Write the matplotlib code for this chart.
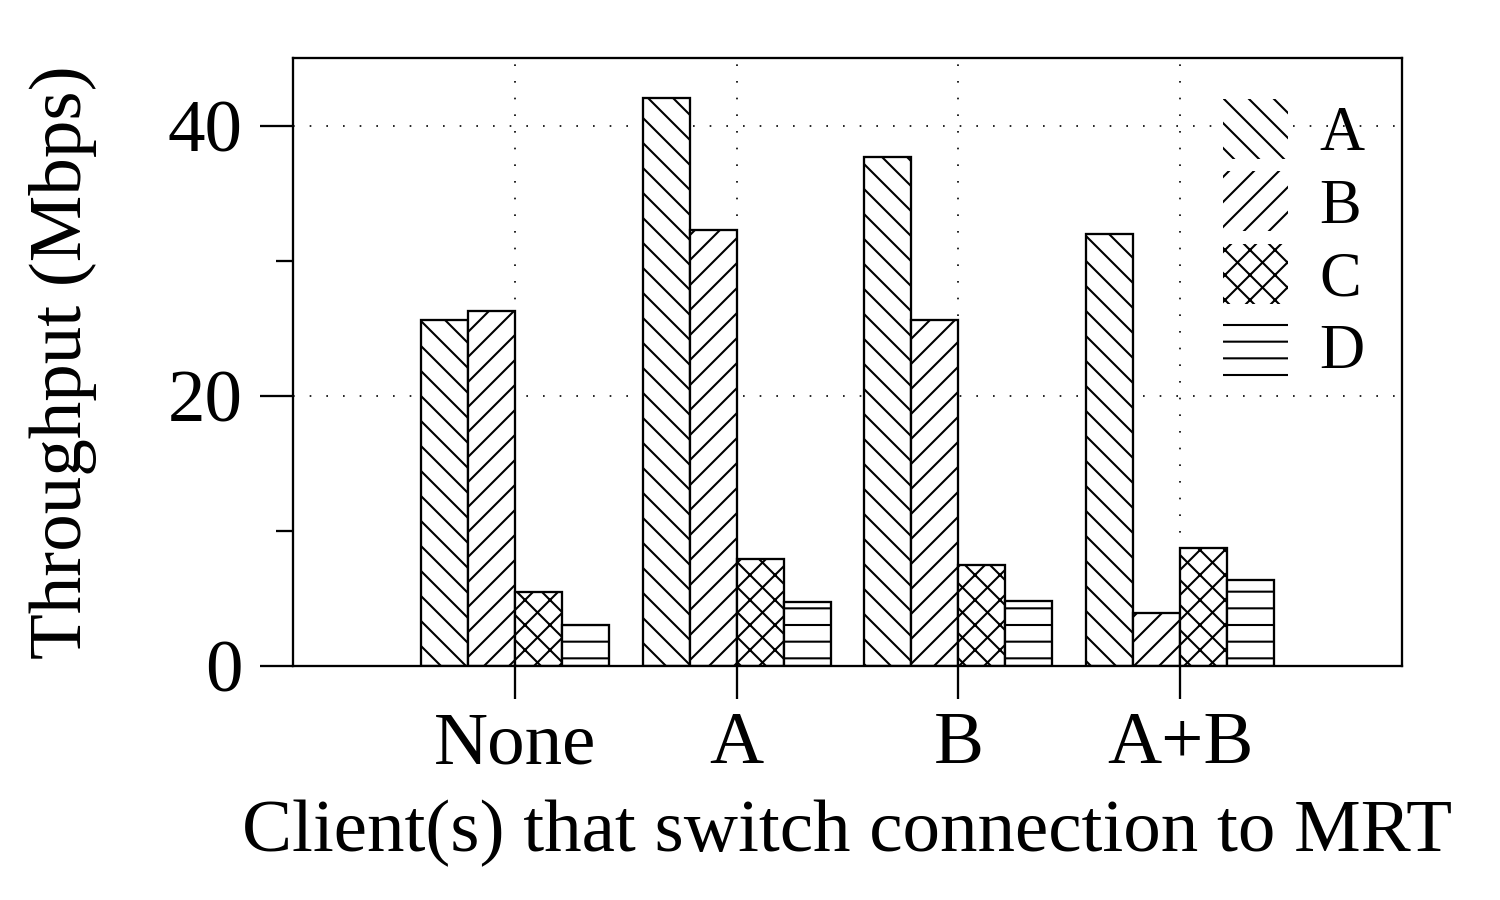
import matplotlib
matplotlib.use("Agg")
import matplotlib.pyplot as plt
from matplotlib.patches import Patch
from matplotlib.ticker import MultipleLocator
import numpy as np

# data
groups = ["None", "A", "B", "A+B"]
clients = ["A", "B", "C", "D"]
thr_a = [25.6, 42.0, 37.7, 32.0]
thr_b = [26.3, 32.3, 25.6, 3.9]
thr_c = [5.5, 7.9, 7.5, 8.7]
thr_d = [3.0, 4.7, 4.8, 6.4]
# hatch cell is one inch, so at 300 dpi these counts give ~25 px / ~17 px spacing
hatches = ["\\\\\\\\", "////", "xxxx", "---"]

plt.rcParams["font.family"] = ["Liberation Serif", "DejaVu Serif"]
plt.rcParams["hatch.linewidth"] = 0.5

fig = plt.figure(figsize=(5, 3), dpi=300)
ax = fig.add_axes([0.1953, 0.26, 0.7394, 0.6756])

x = np.arange(1, len(groups) + 1)
w = 0.212
series = [thr_a, thr_b, thr_c, thr_d]
for i, vals in enumerate(series):
    ax.bar(x + (i - 1.5) * w, vals, w, color="white", edgecolor="black",
           linewidth=0.55, hatch=hatches[i], zorder=2)

ax.set_xlim(0, 5)
ax.set_ylim(0, 45)
ax.set_xticks(x)
ax.set_xticklabels(groups)
ax.yaxis.set_major_locator(MultipleLocator(20))
ax.yaxis.set_minor_locator(MultipleLocator(10))
ax.set_axisbelow(True)
ax.grid(True, which="major", color="black", linestyle=(0, (1, 9)), linewidth=0.4)

for s in ax.spines.values():
    s.set_linewidth(0.55)
ax.tick_params(axis="both", which="major", length=8, width=0.55, labelsize=18, direction="out")
ax.tick_params(axis="y", which="minor", length=4, width=0.55)
ax.tick_params(axis="y", which="major", pad=4)
ax.tick_params(axis="x", which="major", pad=3)

ax.set_xlabel("Client(s) that switch connection to MRT", fontsize=18, labelpad=5)
ax.set_ylabel("Throughput (Mbps)", fontsize=18, labelpad=17)

handles = [Patch(facecolor="white", edgecolor="black", linewidth=0, hatch=h)
           for h in hatches]
ax.legend(handles, clients, loc="upper right", bbox_to_anchor=(1.0, 0.995),
          frameon=False, fontsize=15, handlelength=1.05, handleheight=1.1,
          labelspacing=0.12, handletextpad=0.5, borderaxespad=0.2)

fig.savefig("out.png", dpi=300)
